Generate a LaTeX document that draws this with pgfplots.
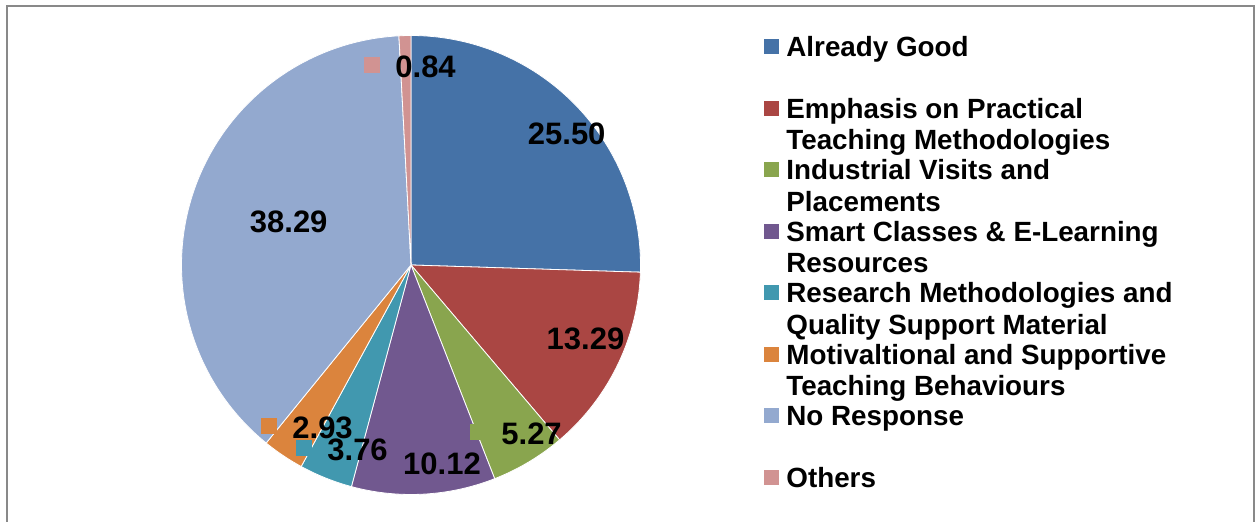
\documentclass[border=0pt]{standalone}
\usepackage{pgfplots}
\pgfplotsset{compat=1.18}
\usepackage{pgfplotstable}
\usepackage{fontspec}
\setmainfont{Liberation Sans}

\definecolor{pie0}{HTML}{4572A7}
\definecolor{pie1}{HTML}{AA4643}
\definecolor{pie2}{HTML}{89A54E}
\definecolor{pie3}{HTML}{71588F}
\definecolor{pie4}{HTML}{4198AF}
\definecolor{pie5}{HTML}{DB843D}
\definecolor{pie6}{HTML}{93A9CF}
\definecolor{pie7}{HTML}{D19392}
\definecolor{framegray}{HTML}{898989}

\pgfplotstableread[col sep=comma]{
label,value
Already Good,25.50
Emphasis on Practical Teaching Methodologies,13.29
Industrial Visits and Placements,5.27
Smart Classes and E-Learning Resources,10.12
Research Methodologies and Quality Support Material,3.76
Motivaltional and Supportive Teaching Behaviours,2.93
No Response,38.29
Others,0.84
}\piedata

\newcommand{\labfont}{\fontsize{15.5}{18}\selectfont\bfseries}
\newcommand{\legfont}{\fontsize{13.9}{16}\selectfont\bfseries}

\begin{document}
\begin{tikzpicture}
\begin{axis}[name=ax, width=627.5pt, height=261pt, scale only axis, hide axis,
  xmin=0, xmax=1255, ymin=0, ymax=522, clip=false]
\pgfmathsetmacro{\cum}{0}
\pgfplotsforeachungrouped \i in {0,...,7}{%
  \pgfplotstablegetelem{\i}{value}\of\piedata
  \pgfmathsetmacro{\angA}{90-3.6*\cum}%
  \pgfmathsetmacro{\cum}{\cum+\pgfplotsretval}%
  \pgfmathsetmacro{\angB}{90-3.6*\cum}%
  \edef\temp{\noexpand\addplot[draw=white, line width=0.4pt, fill=pie\i,
    domain=\angB:\angA, samples=120, variable=\noexpand\t]
    ({411+229.5*cos(\noexpand\t)}, {257+229.5*sin(\noexpand\t)}) -- (axis cs:411,257) -- cycle;}%
  \temp
}
\end{axis}
\begin{scope}[shift={(ax.south west)}, x=0.5pt, y=0.5pt]
\path (0,0) rectangle (1255,522);
% frame
\draw[framegray, line width=1pt] (7,0) -- (7,516) -- (1254,516) -- (1254,0);
% data labels
\begin{scope}[every node/.style={inner sep=0pt, font=\labfont}]
\node[anchor=base] at (566.7,377) {25.50};
\node[anchor=base] at (585.5,172) {13.29};
\node[anchor=base] at (442,47) {10.12};
\node[anchor=base] at (288.7,289.5) {38.29};
\node[anchor=base west] at (470,77) {\textcolor{pie2}{\rule[2.3pt]{8pt}{8pt}}\hspace{7.5pt}5.27};
\node[anchor=base west] at (261,83.7) {\textcolor{pie5}{\rule[2.3pt]{8pt}{8pt}}\hspace{7.5pt}2.93};
\node[anchor=base west] at (296,61.3) {\textcolor{pie4}{\rule[2.3pt]{8pt}{8pt}}\hspace{7.5pt}3.76};
\node[anchor=base west] at (364,444.3) {\textcolor{pie7}{\rule[2.3pt]{8pt}{8pt}}\hspace{7.5pt}0.84};
\end{scope}
% legend
\begin{scope}[every node/.style={inner sep=0pt, anchor=base west, font=\legfont}]
\newcommand{\legentry}[4]{%
  \pgfmathsetmacro{\yc}{522-(47+61.5*#1)}%
  \fill[#2] (764,\yc-7.5) rectangle (779,\yc+7.5);
  \node at (786,\yc-9.7) {#3};
  \node at (786,\yc-41.2) {#4};
}
\legentry{0}{pie0}{Already Good}{}
\legentry{1}{pie1}{Emphasis on Practical}{Teaching Methodologies}
\legentry{2}{pie2}{Industrial Visits and}{Placements}
\legentry{3}{pie3}{Smart Classes \& E-Learning}{Resources}
\legentry{4}{pie4}{Research Methodologies and}{Quality Support Material}
\legentry{5}{pie5}{Motivaltional and Supportive}{Teaching Behaviours}
\legentry{6}{pie6}{No Response}{}
\legentry{7}{pie7}{Others}{}
\end{scope}
\end{scope}
\end{tikzpicture}
\end{document}
